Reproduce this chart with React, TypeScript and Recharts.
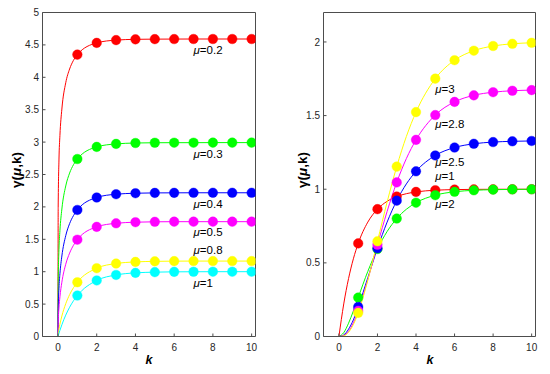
import React from 'react';
import { LineChart, Line, XAxis, YAxis, ReferenceDot } from 'recharts';

// ---------- Left panel data ----------
const kLeft = [0, 0.01, 0.05, 0.1, 0.2, 0.4, 0.6, 0.8, 1, 2, 3, 4, 5, 6, 7, 8, 9, 10];
const gMu02 = [0, 1.988, 2.724, 3.104, 3.51, 3.916, 4.128, 4.262, 4.35, 4.531, 4.574, 4.586, 4.589, 4.59, 4.591, 4.591, 4.591, 4.591];
const gMu03 = [0, 0.835, 1.342, 1.633, 1.967, 2.323, 2.522, 2.651, 2.739, 2.926, 2.972, 2.986, 2.99, 2.991, 2.991, 2.992, 2.992, 2.992];
const gMu04 = [0, 0.395, 0.744, 0.968, 1.242, 1.556, 1.742, 1.866, 1.953, 2.145, 2.196, 2.211, 2.216, 2.217, 2.218, 2.218, 2.218, 2.218];
const gMu05 = [0, 0.199, 0.44, 0.612, 0.838, 1.115, 1.287, 1.408, 1.494, 1.692, 1.747, 1.764, 1.77, 1.772, 1.772, 1.772, 1.772, 1.772];
const gMu08 = [0, 0.031, 0.111, 0.19, 0.316, 0.506, 0.646, 0.753, 0.837, 1.054, 1.126, 1.151, 1.16, 1.163, 1.164, 1.164, 1.164, 1.164];
const gMu10 = [0, 0.01, 0.049, 0.095, 0.181, 0.33, 0.451, 0.551, 0.632, 0.865, 0.95, 0.982, 0.993, 0.998, 0.999, 1.0, 1.0, 1.0];
const leftLabels = ['0.2', '0.3', '0.4', '0.5', '0.8', '1'];
const leftLabelK = [7, 7, 7, 7, 7, 7];
const leftLabelY = [4.42, 2.82, 2.05, 1.62, 1.33, 0.82];

// ---------- Right panel data ----------
const kRight = [0, 0.25, 0.5, 0.75, 1, 1.5, 2, 2.5, 3, 3.5, 4, 5, 6, 7, 8, 9, 10];
const gMu1 = [0, 0.2212, 0.3935, 0.5276, 0.6321, 0.7769, 0.8647, 0.9179, 0.9502, 0.9698, 0.9817, 0.9933, 0.9975, 0.9991, 0.9997, 0.9999, 1.0];
const gMu2 = [0, 0.0265, 0.0902, 0.1734, 0.2642, 0.4422, 0.594, 0.7127, 0.8009, 0.8641, 0.9084, 0.9596, 0.9826, 0.9927, 0.997, 0.9988, 0.9995];
const gMu25 = [0, 0.0105, 0.0498, 0.1129, 0.2005, 0.3988, 0.599, 0.7765, 0.9223, 1.0361, 1.1216, 1.2293, 1.2831, 1.3086, 1.3202, 1.3254, 1.3277];
const gMu28 = [0, 0.0061, 0.0357, 0.0929, 0.1746, 0.3866, 0.623, 0.8491, 1.0463, 1.2082, 1.3353, 1.5037, 1.593, 1.6376, 1.6588, 1.6687, 1.6731];
const gMu3 = [0, 0.0043, 0.0288, 0.081, 0.1606, 0.3823, 0.6466, 0.9124, 1.1536, 1.3583, 1.5238, 1.7507, 1.8761, 1.9407, 1.9725, 1.9875, 1.9945];
const rightLabels = ['3', '2.8', '2.5', '1', '2'];
const rightLabelK = [5, 5, 5, 5, 5];
const rightLabelY = [1.68, 1.44, 1.182, 1.09, 0.9];

// ---------- Ticks ----------
const xTicks = [0, 2, 4, 6, 8, 10];
const yTicksLeft = [0, 0.5, 1, 1.5, 2, 2.5, 3, 3.5, 4, 4.5, 5];
const yTicksRight = [0, 0.5, 1, 1.5, 2];

// ---------- Styles ----------
const leftColors = ['#ff0000', '#00ff00', '#0000ff', '#ff00ff', '#ffff00', '#00ffff'];
const rightColors = ['#ff0000', '#00ff00', '#0000ff', '#ff00ff', '#ffff00'];
const AXIS = '#4d4d4d';
const FONT = '"Liberation Sans", Arial, Helvetica, sans-serif';

const leftData = kLeft.map((k, i) => ({ k, s0: gMu02[i], s1: gMu03[i], s2: gMu04[i], s3: gMu05[i], s4: gMu08[i], s5: gMu10[i] }));
const rightData = kRight.map((k, i) => ({ k, s0: gMu1[i], s1: gMu2[i], s2: gMu25[i], s3: gMu28[i], s4: gMu3[i] }));

const makeDot = (color: string) => (props: any) => {
  const { cx, cy, payload, index } = props;
  if (payload && payload.k >= 1 && Number.isInteger(payload.k)) {
    return <circle key={`d${index}`} cx={cx} cy={cy} r={4.8} fill={color} stroke={color} strokeWidth={0.4} />;
  }
  return <g key={`d${index}`} />;
};

const muLabel = (txt: string) => (props: any) => {
  const vb = props.viewBox || {};
  return (
    <text x={vb.x} y={vb.y} dominantBaseline="central" fontSize={11.5} fontFamily={FONT} fill="#000">
      <tspan fontStyle="italic">μ</tspan>={txt}
    </text>
  );
};

const tickStyle = { fontSize: 10, fill: '#262626', fontFamily: FONT };

function Panel(props: {
  data: any[];
  colors: string[];
  yTicks: number[];
  yMax: number;
  yAxisWidth: number;
  marginRight: number;
  labels: string[];
  labelK: number[];
  labelY: number[];
  yLabelX: number;
  xLabelX: number;
}) {
  const { data, colors, yTicks, yMax, yAxisWidth, marginRight, labels, labelK, labelY, yLabelX, xLabelX } = props;
  return (
    <LineChart width={275} height={374} data={data} margin={{ top: 11.5, right: marginRight, bottom: 7.5, left: 0.5 }}>
      <XAxis
        dataKey="k"
        type="number"
        domain={[-0.8, 10.2]}
        ticks={xTicks}
        allowDataOverflow
        height={30}
        tickSize={-3}
        tickMargin={10}
        tick={tickStyle}
        axisLine={{ stroke: AXIS }}
        tickLine={{ stroke: AXIS }}
        label={{
          content: () => (
            <text x={xLabelX} y={360} textAnchor="middle" dominantBaseline="central" fontSize={12.5} fontWeight="bold" fontStyle="italic" fontFamily={FONT} fill="#000">
              k
            </text>
          ),
        }}
      />
      <XAxis
        xAxisId="top"
        orientation="top"
        dataKey="k"
        type="number"
        domain={[-0.8, 10.2]}
        ticks={xTicks}
        allowDataOverflow
        height={1}
        tickSize={-3}
        tick={false}
        axisLine={{ stroke: AXIS }}
        tickLine={{ stroke: AXIS }}
      />
      <YAxis
        type="number"
        domain={[0, yMax]}
        ticks={yTicks}
        allowDataOverflow
        width={yAxisWidth}
        tickSize={-3}
        tickMargin={6.5}
        tick={tickStyle}
        axisLine={{ stroke: AXIS }}
        tickLine={{ stroke: AXIS }}
        label={{
          content: () => (
            <text
              x={yLabelX}
              y={170}
              transform={`rotate(-90 ${yLabelX} 170)`}
              textAnchor="middle"
              dominantBaseline="central"
              fontSize={13.5}
              fontWeight="bold"
              fontFamily={FONT}
              fill="#000"
            >
              γ(<tspan fontStyle="italic">μ</tspan>,k)
            </text>
          ),
        }}
      />
      <YAxis
        yAxisId="right"
        orientation="right"
        type="number"
        domain={[0, yMax]}
        ticks={yTicks}
        allowDataOverflow
        width={1}
        tickSize={-3}
        tick={false}
        axisLine={{ stroke: AXIS }}
        tickLine={{ stroke: AXIS }}
      />
      {colors.map((c, i) => (
        <Line
          key={`s${i}`}
          dataKey={`s${i}`}
          type="monotone"
          stroke={c}
          strokeWidth={1}
          dot={makeDot(c)}
          activeDot={false}
          isAnimationActive={false}
        />
      ))}
      {labels.map((t, i) => (
        <ReferenceDot key={`l${i}`} x={labelK[i]} y={labelY[i]} r={0} fill="none" stroke="none" label={{ content: muLabel(t) }} />
      ))}
    </LineChart>
  );
}

export default function App() {
  return (
    <div style={{ position: 'absolute', left: 0, top: 0, width: 550, height: 374, background: '#fff' }}>
      <div style={{ position: 'absolute', left: 0, top: 0 }}>
        <Panel
          data={leftData}
          colors={leftColors}
          yTicks={yTicksLeft}
          yMax={5}
          yAxisWidth={42}
          marginRight={18.5}
          labels={leftLabels}
          labelK={leftLabelK}
          labelY={leftLabelY}
          yLabelX={16}
          xLabelX={149}
        />
      </div>
      <div style={{ position: 'absolute', left: 275, top: 0 }}>
        <Panel
          data={rightData}
          colors={rightColors}
          yTicks={yTicksRight}
          yMax={2.2}
          yAxisWidth={48}
          marginRight={13.5}
          labels={rightLabels}
          labelK={rightLabelK}
          labelY={rightLabelY}
          yLabelX={27}
          xLabelX={155}
        />
      </div>
    </div>
  );
}
